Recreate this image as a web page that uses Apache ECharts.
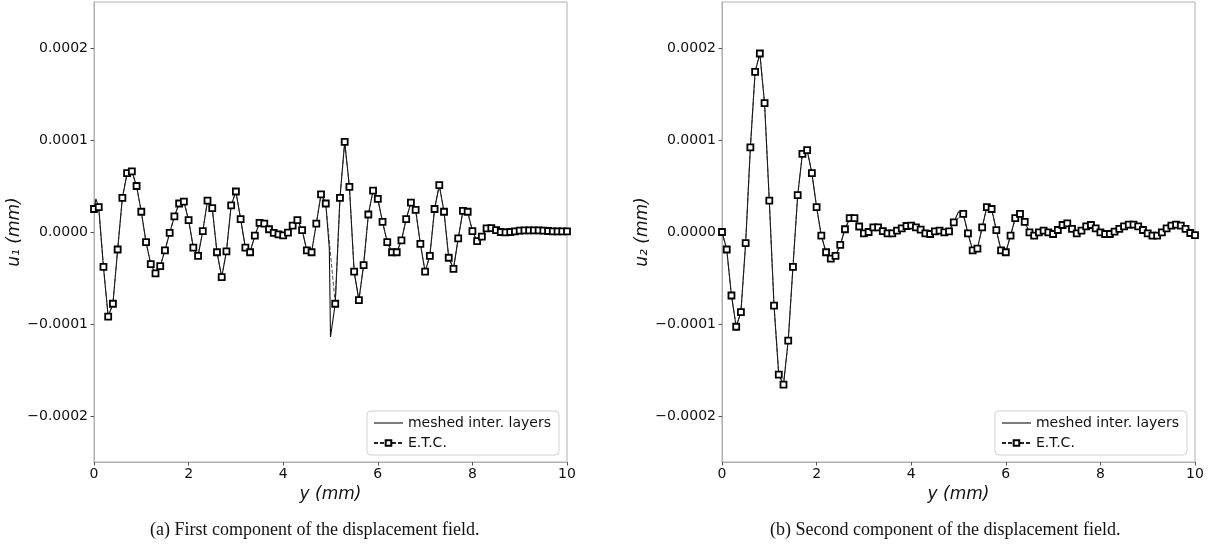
<!DOCTYPE html>
<html>
<head>
<meta charset="utf-8">
<script src="https://cdn.jsdelivr.net/npm/echarts@6/dist/echarts.min.js"></script>
<style>
html,body{margin:0;padding:0;background:#fff;}
#chart{width:1218px;height:546px;}
</style>
</head>
<body>
<div id="chart"></div>
<script>
// Sample positions of the E.T.C. solution: y = 0.0 ... 10.0 mm, step 0.1 mm (index k -> k/10)
// Values in units of 1e-6 mm; null = no E.T.C. sample (interface at y = 5 mm)
const etcU1 = [
  25, 27, -38, -92, -78, -19, 37, 64, 66, 50,
  22, -11, -35, -45, -37, -20, -1, 17, 31, 33,
  13, -17, -26, 1, 34, 26, -22, -49, -21, 29,
  44, 14, -17, -22, -4, 10, 9, 3, -1, -2.5,
  -3.6, -0.7, 7, 13, 2, -20, -22, 9, 41, 31,
  null, -78, 37, 98, 49, -43, -74, -36, 19, 45,
  36, 11, -11, -22, -22, -9, 14, 32, 24, -13,
  -43, -26, 25, 51, 22, -28, -40, -7, 23, 22,
  1, -10, -5, 4, 4.3, 2, 0, -0.4, 0, 0.7,
  1.4, 1.8, 1.8, 1.8, 1.8, 1.4, 1.1, 0.7, 0.7, 0.7,
  0.7
];
const etcU2 = [
  0, -19, -69, -103, -87, -12, 92, 174, 194, 140,
  34, -80, -155, -166, -118, -38, 40, 85, 89, 64,
  27, -4, -22, -29, -26, -14, 3, 15, 15, 6,
  -1.4, 0, 5, 5, 1, -1.4, -1.4, 1.4, 4, 6.5,
  7, 5, 2.5, -1.4, -2.2, 0.7, 1.4, -0.4, 0.7, 10.5,
  null, 19.6, -1.4, -20, -18, 5, 27, 25, 2, -20,
  -22, -4, 15, 19.6, 11, -0.4, -4, -0.4, 1.4, -0.4,
  -2.2, 2.2, 7.6, 9.4, 3.3, -1.4, 1.4, 6.2, 7.6, 4,
  -0.4, -2.2, -2.2, 0.4, 3.3, 6.2, 8, 8, 6.2, 2.2,
  -1.4, -4, -4, -0.4, 4, 6.9, 8, 6.9, 3.3, -1.1,
  -3.3
];
// Extra points of the meshed-interlayer solution where it departs from E.T.C. ([y mm, value 1e-6 mm])
const meshedU1Extra = [[0.04, 36], [4.975, -18], [5.0, -114]];
const meshedU2Extra = [[5.0, 22]];

const xTicks = [0, 2, 4, 6, 8, 10];
const yTicks = [-0.0002, -0.0001, 0, 0.0001, 0.0002];
const captions = ['(a) First component of the displacement field.', '(b) Second component of the displacement field.'];
const yNames = ['u\u2081 (mm)', 'u\u2082 (mm)'];
const xName = 'y (mm)';
const seriesNames = ['meshed inter. layers', 'E.T.C.'];

const SCALE = 1e-6;
function etcPoints(arr) {
  const out = [];
  arr.forEach((v, k) => { out.push([k / 10, v === null ? null : v * SCALE]); });
  return out;
}
function meshedPoints(arr, extra) {
  const pts = [];
  arr.forEach((v, k) => { if (v !== null) pts.push([k / 10, v * SCALE]); });
  extra.forEach(p => pts.push([p[0], p[1] * SCALE]));
  pts.sort((a, b) => a[0] - b[0]);
  return pts;
}

const FRAME = '#b0b0b0';
const TXT = '#111';
const grids = [
  {left: 94, top: 2, width: 473, height: 460, show: true, borderColor: FRAME, borderWidth: 1, backgroundColor: '#fff'},
  {left: 722, top: 2, width: 473, height: 460, show: true, borderColor: FRAME, borderWidth: 1, backgroundColor: '#fff'}
];
function fmtY(v) {
  const s = Math.abs(v).toFixed(4);
  return (v < -1e-12 ? '\u2212' : '') + s;
}
const xAxes = [0, 1].map(i => ({
  type: 'value', gridIndex: i, min: 0, max: 10, interval: 2,
  name: xName, nameLocation: 'middle', nameGap: 19,
  nameTextStyle: {fontFamily: 'DejaVu Sans', fontStyle: 'italic', fontSize: 17, color: TXT},
  axisLine: {show: true, onZero: false, lineStyle: {color: FRAME, width: 1}},
  axisTick: {show: true, length: 3.5, lineStyle: {color: '#555'}},
  axisLabel: {fontFamily: 'DejaVu Sans', fontSize: 14, color: TXT, margin: 5},
  splitLine: {show: false}
}));
const yAxes = [0, 1].map(i => ({
  type: 'value', gridIndex: i, min: -0.00025, max: 0.00025,
  name: yNames[i], nameLocation: 'middle', nameGap: 66, nameRotate: 90,
  nameTextStyle: {fontFamily: 'DejaVu Sans', fontStyle: 'italic', fontSize: 17, color: TXT},
  axisLine: {show: true, onZero: false, lineStyle: {color: FRAME, width: 1}},
  axisTick: {show: true, length: 3.5, lineStyle: {color: '#555'}, customValues: yTicks},
  axisLabel: {fontFamily: 'DejaVu Sans', fontSize: 14, color: TXT, margin: 6, customValues: yTicks, formatter: fmtY},
  splitLine: {show: false}
}));

const etcData = [etcU1, etcU2];
const meshedExtra = [meshedU1Extra, meshedU2Extra];
const series = [];
[0, 1].forEach(i => {
  series.push({
    name: seriesNames[0], type: 'line', xAxisIndex: i, yAxisIndex: i,
    data: meshedPoints(etcData[i], meshedExtra[i]),
    showSymbol: false, symbol: 'none', animation: false,
    lineStyle: {color: '#111', width: 1.1, type: 'solid'},
    itemStyle: {color: '#111'}, z: 2
  });
  series.push({
    name: seriesNames[1], type: 'line', xAxisIndex: i, yAxisIndex: i,
    data: etcPoints(etcData[i]), connectNulls: true,
    symbol: 'rect', symbolSize: 6, showAllSymbol: true, animation: false,
    lineStyle: {color: '#222', width: 0.8, type: [4, 2]},
    itemStyle: {color: '#fff', borderColor: '#000', borderWidth: 1.8}, z: 3
  });
});

const legendCommon = {
  orient: 'vertical', top: 411, itemWidth: 29, itemHeight: 7, itemGap: 6,
  padding: [5, 8, 5, 6], borderColor: '#d0d0d0', borderWidth: 1, borderRadius: 4,
  backgroundColor: 'rgba(255,255,255,0.85)',
  textStyle: {fontFamily: 'DejaVu Sans', fontSize: 14, color: TXT},
  data: [
    {name: seriesNames[0], itemStyle: {opacity: 0}, lineStyle: {color: '#111', width: 1.1, type: 'solid'}},
    {name: seriesNames[1]}
  ],
  selectedMode: false
};
const legends = [
  Object.assign({}, legendCommon, {right: 1218 - 559}),
  Object.assign({}, legendCommon, {right: 1218 - 1187})
];

const chart = echarts.init(document.getElementById('chart'), null, {renderer: 'canvas'});
chart.setOption({
  animation: false,
  backgroundColor: '#fff',
  grid: grids, xAxis: xAxes, yAxis: yAxes, series: series, legend: legends,
  graphic: [
    {type: 'text', left: 330 - 180, top: 521, style: {text: captions[0], font: '18px "Liberation Serif"', fill: '#111'}},
    {type: 'text', left: 958 - 188, top: 521, style: {text: captions[1], font: '18px "Liberation Serif"', fill: '#111'}}
  ]
});
</script>
</body>
</html>
